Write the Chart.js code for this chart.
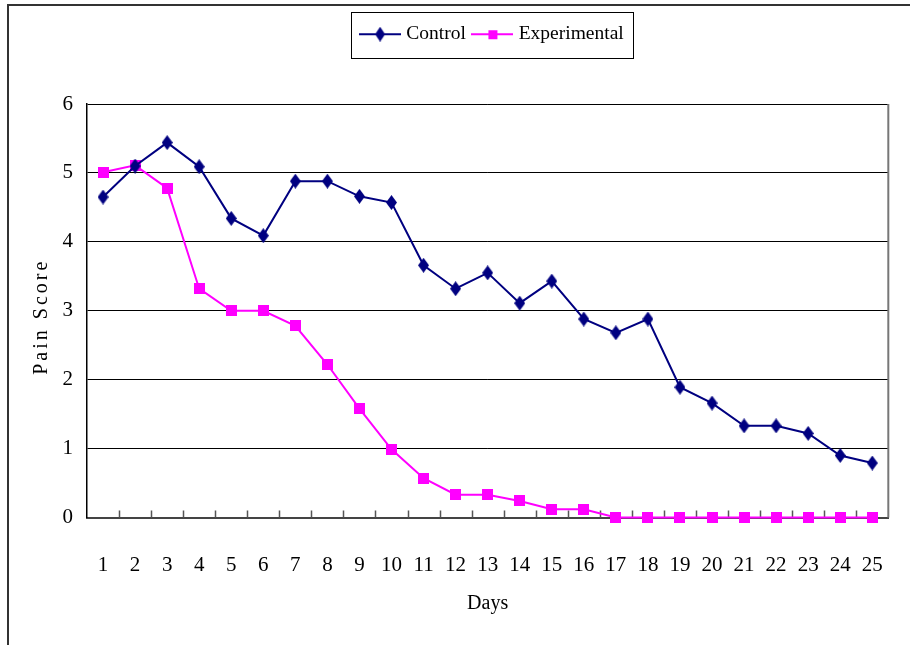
<!DOCTYPE html>
<html>
<head>
<meta charset="utf-8">
<title>Pain Score</title>
<script src="https://cdn.jsdelivr.net/npm/chart.js@4.4.1/dist/chart.umd.min.js"></script>
<style>
  html, body { margin: 0; padding: 0; background: #fff; }
</style>
</head>
<body>
<canvas id="myChart" width="910" height="645"></canvas>
<script>
const days = ['1','2','3','4','5','6','7','8','9','10','11','12','13','14','15','16','17','18','19','20','21','22','23','24','25'];
const control = [4.65, 5.1, 5.44, 5.09, 4.34, 4.09, 4.88, 4.88, 4.66, 4.57, 3.66, 3.32, 3.55, 3.11, 3.43, 2.88, 2.68, 2.88, 1.89, 1.66, 1.33, 1.33, 1.22, 0.9, 0.79];
const experimental = [5.01, 5.11, 4.78, 3.32, 3.0, 3.0, 2.78, 2.22, 1.58, 0.99, 0.57, 0.33, 0.33, 0.24, 0.12, 0.12, 0, 0, 0, 0, 0, 0, 0, 0, 0];
const yTicks = [0, 1, 2, 3, 4, 5, 6];

const serif = 'Liberation Serif';
const navy = '#000080';
const pink = '#ff00ff';
const legendFont = 19.5;
const legendPad = 10;

// point markers as little canvases
function marker(shape, color, w, h) {
  const c = document.createElement('canvas');
  c.width = w; c.height = h;
  const g = c.getContext('2d');
  g.fillStyle = color;
  if (shape === 'diamond') {
    g.beginPath();
    g.moveTo(w / 2, 0); g.lineTo(w, h / 2); g.lineTo(w / 2, h); g.lineTo(0, h / 2);
    g.closePath();
    g.fill();
  } else {
    g.fillRect(0, 0, w, h);
  }
  return c;
}

function legendIcon(shape, color) {
  const c = document.createElement('canvas');
  c.width = 42; c.height = 16;
  const g = c.getContext('2d');
  g.strokeStyle = color;
  g.lineWidth = 2;
  g.beginPath(); g.moveTo(0, 8); g.lineTo(42, 8); g.stroke();
  const m = shape === 'diamond' ? marker(shape, color, 10, 15) : marker(shape, color, 9, 9);
  g.drawImage(m, 21 - m.width / 2, 8 - m.height / 2);
  return c;
}

const icons = [legendIcon('diamond', navy), legendIcon('square', pink)];

const frame = {
  id: 'frame',
  beforeLayout(chart) {
    const lg = chart.legend;
    if (lg && !lg._fitPatched) {
      const fit = lg.fit;
      lg.fit = function () { fit.call(this); if (this.height) this.height = 89.5; };
      lg._fitPatched = true;
    }
  },
  afterLayout(chart) {
    // legend is centred over the plot, not the whole canvas
    const lg = chart.legend, a = chart.chartArea;
    lg.left = a.left + 6; lg.right = a.right + 6; lg.width = a.right - a.left;

    const ys = chart.scales.y;
    if (!ys._spaced) {
      const draw = ys.drawTitle;
      ys.drawTitle = function () {
        const ctx = this.ctx;
        ctx.save();
        ctx.letterSpacing = '3px';
        ctx.translate(0, 6);
        draw.call(this);
        ctx.restore();
      };
      ys._spaced = true;
    }
  },
  beforeDraw(chart) {
    const ctx = chart.ctx;
    ctx.save();
    ctx.fillStyle = '#fff';
    ctx.fillRect(0, 0, chart.width, chart.height);
    ctx.strokeStyle = '#333';
    ctx.lineWidth = 2;
    ctx.beginPath();
    ctx.moveTo(8, chart.height);
    ctx.lineTo(8, 5);
    ctx.lineTo(chart.width, 5);
    ctx.stroke();
    ctx.restore();
  },
  beforeDatasetsDraw(chart) {
    const ctx = chart.ctx, a = chart.chartArea, xs = chart.scales.x;
    ctx.save();
    // right edge of plot
    ctx.strokeStyle = '#777';
    ctx.lineWidth = 2;
    ctx.beginPath();
    ctx.moveTo(a.right, a.top);
    ctx.lineTo(a.right, a.bottom);
    ctx.stroke();
    // inward tick marks between days
    ctx.strokeStyle = '#555';
    ctx.lineWidth = 1.5;
    ctx.beginPath();
    for (let i = 1; i < days.length; i++) {
      const x = Math.round((xs.getPixelForValue(i - 1) + xs.getPixelForValue(i)) / 2) + 0.5;
      ctx.moveTo(x, a.bottom);
      ctx.lineTo(x, a.bottom - 7);
    }
    ctx.stroke();
    ctx.restore();
  },
  afterDraw(chart) {
    // box round the legend
    const ctx = chart.ctx, lg = chart.legend;
    const lw = lg.lineWidths[0] - legendPad;
    const start = (lg.left + legendPad + lg.right - lg.lineWidths[0]) / 2;
    const l = start - 13;
    const r = start + lw + 9;
    const cy = lg.top + legendPad + legendFont / 2;
    const t = cy - 22;
    const b = cy + 24;
    ctx.save();
    ctx.strokeStyle = '#000';
    ctx.lineWidth = 1;
    ctx.strokeRect(Math.round(l) + 0.5, Math.round(t) + 0.5, Math.round(r - l), Math.round(b - t));
    ctx.restore();
  }
};

const ctx = document.getElementById('myChart');

new Chart(ctx, {
  type: 'line',
  data: {
    labels: days,
    datasets: [{
      label: 'Control',
      data: control,
      borderColor: navy,
      backgroundColor: navy,
      borderWidth: 2,
      pointStyle: marker('diamond', navy, 11, 15),
      tension: 0,
      clip: false
    }, {
      label: 'Experimental',
      data: experimental,
      borderColor: pink,
      backgroundColor: pink,
      borderWidth: 2,
      pointStyle: marker('square', pink, 11, 11),
      tension: 0,
      clip: false
    }]
  },
  options: {
    responsive: false,
    animation: false,
    layout: { padding: { top: 14.5, right: 11, bottom: 7.5, left: 0 } },
    plugins: {
      legend: {
        position: 'top',
        labels: {
          usePointStyle: true,
          pointStyleWidth: 33,
          padding: legendPad,
          color: '#000',
          font: { family: serif, size: legendFont },
          generateLabels(chart) {
            const items = Chart.defaults.plugins.legend.labels.generateLabels(chart);
            items.forEach((it, i) => { it.pointStyle = icons[i]; });
            return items;
          }
        }
      },
      tooltip: { enabled: false }
    },
    scales: {
      x: {
        type: 'category',
        offset: true,
        grid: { display: false },
        border: { display: true, color: '#444', width: 2 },
        ticks: {
          color: '#000',
          padding: 27,
          maxRotation: 0,
          autoSkip: false,
          font: { family: serif, size: 21 }
        },
        title: {
          display: true,
          text: 'Days',
          color: '#000',
          font: { family: serif, size: 20 },
          padding: { top: 0, bottom: 22 }
        },
        afterFit(s) { s.height = 120; }
      },
      y: {
        min: yTicks[0],
        max: yTicks[yTicks.length - 1],
        grid: { color: '#000', lineWidth: 1, drawTicks: false },
        border: { display: true, color: '#000', width: 1.5 },
        ticks: {
          stepSize: 1,
          color: '#000',
          padding: 14,
          font: { family: serif, size: 21 }
        },
        title: {
          display: true,
          text: 'Pain Score',
          color: '#000',
          font: { family: serif, size: 20 },
          padding: { top: 30, bottom: 0 }
        },
        afterFit(s) { s.width = 87; }
      }
    }
  },
  plugins: [frame]
});
</script>
</body>
</html>
